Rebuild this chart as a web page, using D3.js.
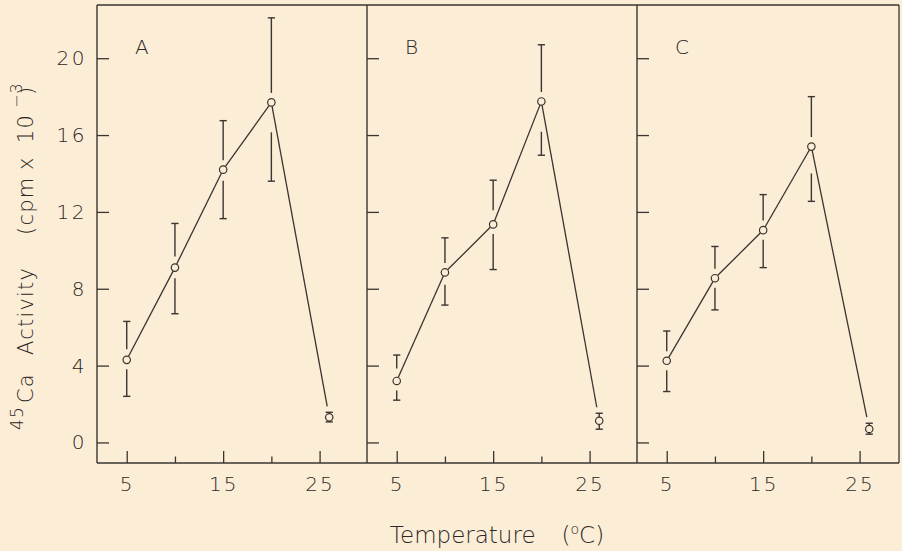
<!DOCTYPE html>
<html>
<head>
<meta charset="utf-8">
<script src="https://cdn.jsdelivr.net/npm/d3@7"></script>
<style>
  html, body { margin: 0; padding: 0; background: #fcedd7; }
  svg { display: block; }
  text { font-family: "DejaVu Sans", "Liberation Sans", sans-serif; font-weight: 200; fill: #2b2724; }
</style>
</head>
<body>
<svg id="chart" width="902" height="551"></svg>
<script>
// ---------------- data ----------------
const panelLabels = ["A", "B", "C"];
const temperatures = [5, 10, 15, 20, 26];

const activityA = [4.3, 9.1, 14.2, 17.7, 1.31];
const upperA    = [6.3, 11.4, 16.75, 22.1, 1.57];
const lowerA    = [2.4, 6.7, 11.65, 13.6, 1.07];

const activityB = [3.2, 8.85, 11.35, 17.75, 1.13];
const upperB    = [4.55, 10.65, 13.65, 20.7, 1.52];
const lowerB    = [2.2, 7.15, 9.0, 14.95, 0.69];

const activityC = [4.25, 8.55, 11.05, 15.4, 0.70];
const upperC    = [5.8, 10.2, 12.9, 18.0, 1.0];
const lowerC    = [2.65, 6.9, 9.1, 12.55, 0.43];

const yTickValues = [0, 4, 8, 12, 16, 20];
const xMajorTicks = [5, 15, 25];
const xMinorTicks = [10, 20];
const xTickLabels = ["5", "15", "25"];

// ---------------- layout ----------------
const W = 902, H = 551;
const topY = 5, bottomY = 463;
const panelLefts  = [97, 367, 637];
const panelRights = [367, 637, 899];
const panelWidth = 270;
const ink = "#3a3530";
const bg = "#fcedd7";
const R = 3.7;

const svg = d3.select("#chart");
svg.append("rect").attr("width", W).attr("height", H).attr("fill", bg);

const y = d3.scaleLinear().domain([-1.07, 22.77]).range([bottomY, topY]);

const series = [
  { label: panelLabels[0], v: activityA, hi: upperA, lo: lowerA },
  { label: panelLabels[1], v: activityB, hi: upperB, lo: lowerB },
  { label: panelLabels[2], v: activityC, hi: upperC, lo: lowerC },
];

series.forEach((s, i) => {
  const left = panelLefts[i], right = panelRights[i];
  const x = d3.scaleLinear().domain([2, 30]).range([left + 0.8, left + 0.8 + panelWidth]);
  const g = svg.append("g");

  // frame
  g.append("line").attr("x1", left).attr("x2", right).attr("y1", topY).attr("y2", topY)
    .attr("stroke", ink).attr("stroke-width", 1.3);
  g.append("line").attr("x1", left).attr("x2", right).attr("y1", bottomY).attr("y2", bottomY)
    .attr("stroke", ink).attr("stroke-width", 1.4);
  g.append("line").attr("x1", left).attr("x2", left).attr("y1", topY).attr("y2", bottomY)
    .attr("stroke", ink).attr("stroke-width", 1.4);
  if (i === series.length - 1) {
    g.append("line").attr("x1", right).attr("x2", right).attr("y1", topY).attr("y2", bottomY)
      .attr("stroke", ink).attr("stroke-width", 1.3);
  }

  // y ticks (inward)
  const yAxis = d3.axisRight(y).tickValues(yTickValues).tickSize(12).tickFormat("");
  const ya = g.append("g").attr("transform", `translate(${left},0)`).call(yAxis);
  ya.select(".domain").remove();
  ya.selectAll(".tick line").attr("stroke", ink).attr("stroke-width", 1.3);

  if (i === 0) {
    const yl = d3.axisLeft(y).tickValues(yTickValues).tickSize(0).tickPadding(10).tickFormat(d3.format("d"));
    const yla = g.append("g").attr("transform", `translate(${left},0)`).call(yl);
    yla.select(".domain").remove();
    yla.attr("font-family", null).attr("font-size", null);
    yla.selectAll(".tick text").attr("font-size", 20).attr("letter-spacing", 2.5).attr("fill", null);
  }

  // x ticks (inward, upward)
  const xAxisMaj = d3.axisTop(x).tickValues(xMajorTicks).tickSize(12).tickFormat("");
  const xm = g.append("g").attr("transform", `translate(0,${bottomY})`).call(xAxisMaj);
  xm.select(".domain").remove();
  xm.selectAll(".tick line").attr("stroke", ink).attr("stroke-width", 1.3);
  const xAxisMin = d3.axisTop(x).tickValues(xMinorTicks).tickSize(6.5).tickFormat("");
  const xn = g.append("g").attr("transform", `translate(0,${bottomY})`).call(xAxisMin);
  xn.select(".domain").remove();
  xn.selectAll(".tick line").attr("stroke", ink).attr("stroke-width", 1.3);

  const xl = d3.axisBottom(x).tickValues(xMajorTicks).tickSize(0).tickPadding(14)
    .tickFormat((d, k) => xTickLabels[k]);
  const xla = g.append("g").attr("transform", `translate(0,${bottomY})`).call(xl);
  xla.select(".domain").remove();
  xla.attr("font-family", null).attr("font-size", null);
  xla.selectAll(".tick text").attr("font-size", 20).attr("letter-spacing", 2).attr("fill", null);

  // panel letter
  g.append("text").attr("x", left + 38).attr("y", 54).attr("font-size", 20).text(s.label);

  // points
  const pts = temperatures.map((t, k) => ({
    x: x(t), y: y(s.v[k]), yh: y(s.hi[k]), yl: y(s.lo[k])
  }));

  const baseGap = 9.5, clear = 5.5;
  // error bars
  pts.forEach((p, k) => {
    const neighbours = [pts[k - 1], pts[k + 1]].filter(Boolean);
    ["up", "down"].forEach(side => {
      const capY = side === "up" ? p.yh : p.yl;
      const len = Math.abs(capY - p.y);
      let gap = baseGap;
      neighbours.forEach(n => {
        const dy = n.y - p.y;
        if ((side === "up" && dy < 0) || (side === "down" && dy > 0)) {
          const ratio = Math.abs(n.x - p.x) / Math.abs(dy);
          gap = Math.max(gap, clear / ratio);
        }
      });
      const sgn = side === "up" ? -1 : 1;
      let start = gap;
      if (gap >= len - 2) start = R;
      if (len > R) {
        g.append("line").attr("x1", p.x).attr("x2", p.x)
          .attr("y1", p.y + sgn * start).attr("y2", capY)
          .attr("stroke", ink).attr("stroke-width", 1.4);
      }
      g.append("line").attr("x1", p.x - 3.6).attr("x2", p.x + 3.6)
        .attr("y1", capY).attr("y2", capY)
        .attr("stroke", ink).attr("stroke-width", 1.4);
    });
  });

  // connecting segments, trimmed
  for (let k = 0; k < pts.length - 1; k++) {
    const a = pts[k], b = pts[k + 1];
    const dx = b.x - a.x, dy = b.y - a.y;
    const L = Math.hypot(dx, dy);
    const trimFor = (p, arriving) => {
      const capY = arriving < 0 ? p.yh : p.yl;
      const len = Math.abs(capY - p.y);
      if (len < baseGap) {
        const vert = len + 6;
        return vert * L / Math.abs(dy);
      }
      return R;
    };
    const ta = trimFor(a, dy), tb = trimFor(b, -dy);
    g.append("line")
      .attr("x1", a.x + dx * ta / L).attr("y1", a.y + dy * ta / L)
      .attr("x2", b.x - dx * tb / L).attr("y2", b.y - dy * tb / L)
      .attr("stroke", ink).attr("stroke-width", 1.3);
  }

  g.selectAll("circle.pt").data(pts).join("circle").attr("class", "pt")
    .attr("cx", d => d.x).attr("cy", d => d.y).attr("r", R)
    .attr("fill", bg).attr("stroke", ink).attr("stroke-width", 1.2);
});

// y-axis title (rotated; x runs upward from y=430)
const yt = svg.append("text").attr("transform", "translate(33,430) rotate(-90)")
  .attr("font-size", 21).attr("letter-spacing", 1.2).attr("text-anchor", "start");
yt.append("tspan").attr("x", 0).attr("y", -10).attr("font-size", 17).text("45");
yt.append("tspan").attr("x", 27).attr("y", 0).text("Ca");
yt.append("tspan").attr("x", 75).attr("y", 0).text("Activity");
yt.append("tspan").attr("x", 195).attr("y", 0).text("(cpm");
yt.append("tspan").attr("x", 260).attr("y", 0).text("x");
yt.append("tspan").attr("x", 287).attr("y", 0).text("10");
yt.append("tspan").attr("x", 322).attr("y", -11).attr("font-size", 16).text("−3");
yt.append("tspan").attr("x", 335).attr("y", 0).text(")");

// x-axis title
const xt = svg.append("text").attr("x", 497).attr("y", 543)
  .attr("font-size", 23).attr("text-anchor", "middle");
xt.append("tspan").text("Temperature");
xt.append("tspan").attr("dx", 26).text("(");
xt.append("tspan").attr("font-size", 14).attr("dy", -9).text("o");
xt.append("tspan").attr("dy", 9).text("C)");
</script>
</body>
</html>
